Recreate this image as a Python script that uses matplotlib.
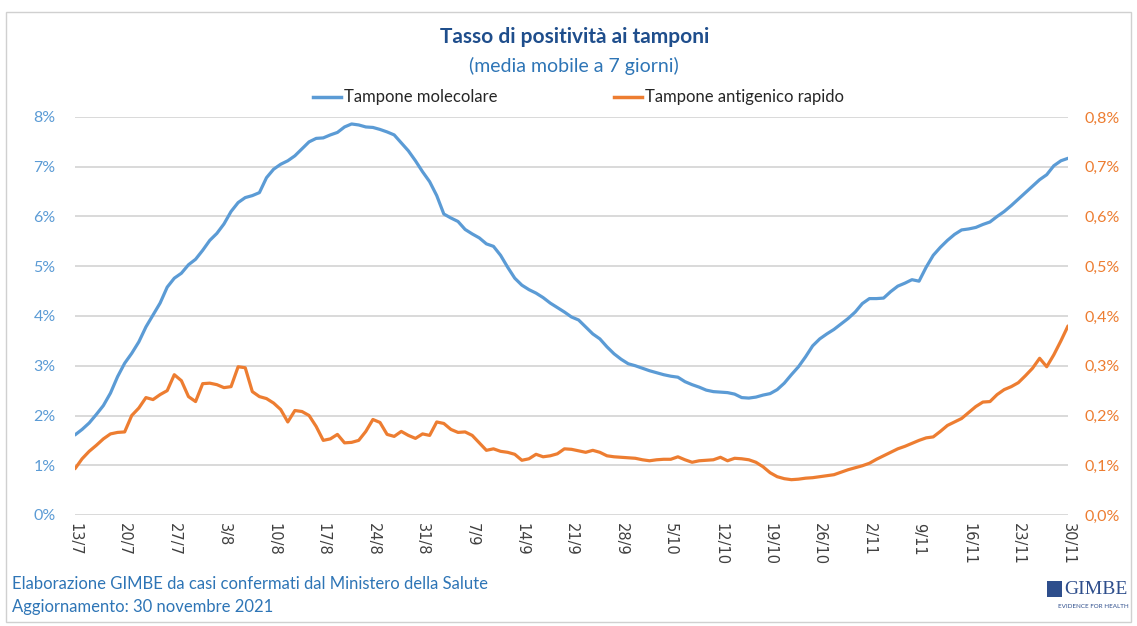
import matplotlib
matplotlib.use("Agg")
import matplotlib.pyplot as plt
import numpy as np
import pandas as pd
from matplotlib.patches import Rectangle
from matplotlib.ticker import FuncFormatter, MultipleLocator

# 7-day moving average of test positivity (%), daily from 13/7 to 30/11/2021
dates = pd.date_range("2021-07-13", "2021-11-30", freq="D")

molecolare = [
    1.61, 1.72, 1.85, 2.02, 2.20, 2.45, 2.78, 3.05, 3.25, 3.48,
    3.78, 4.02, 4.26, 4.58, 4.76, 4.86, 5.03, 5.14, 5.32, 5.52,
    5.66, 5.85, 6.10, 6.28, 6.38, 6.42, 6.48, 6.78, 6.95, 7.05,
    7.12, 7.22, 7.36, 7.50, 7.57, 7.58, 7.64, 7.69, 7.80, 7.86,
    7.84, 7.80, 7.79, 7.75, 7.70, 7.64, 7.48, 7.32, 7.12, 6.90,
    6.70, 6.42, 6.05, 5.97, 5.90, 5.74, 5.65, 5.57, 5.45, 5.40,
    5.22, 4.98, 4.76, 4.62, 4.53, 4.46, 4.37, 4.26, 4.17, 4.08,
    3.98, 3.92, 3.78, 3.64, 3.54, 3.38, 3.24, 3.13, 3.04, 3.00,
    2.95, 2.90, 2.86, 2.82, 2.79, 2.77, 2.68, 2.62, 2.57, 2.51,
    2.48, 2.47, 2.46, 2.43, 2.36, 2.35, 2.37, 2.41, 2.44, 2.52,
    2.65, 2.82, 2.98, 3.18, 3.40, 3.54, 3.64, 3.73, 3.84, 3.95,
    4.08, 4.25, 4.35, 4.35, 4.36, 4.49, 4.60, 4.66, 4.73, 4.70,
    4.98, 5.22, 5.38, 5.52, 5.64, 5.73, 5.75, 5.78, 5.84, 5.89,
    6.00, 6.10, 6.22, 6.35, 6.48, 6.61, 6.74, 6.84, 7.02, 7.12,
    7.17,
]

antigenico = [
    0.093, 0.113, 0.128, 0.140, 0.153, 0.163, 0.166, 0.167, 0.200, 0.215,
    0.236, 0.232, 0.242, 0.250, 0.282, 0.270, 0.238, 0.228, 0.264, 0.265,
    0.262, 0.256, 0.258, 0.298, 0.296, 0.248, 0.238, 0.234, 0.225, 0.212,
    0.187, 0.210, 0.208, 0.200, 0.178, 0.150, 0.153, 0.162, 0.145, 0.146,
    0.150, 0.168, 0.192, 0.186, 0.162, 0.158, 0.168, 0.160, 0.154, 0.163,
    0.160, 0.187, 0.184, 0.172, 0.166, 0.167, 0.160, 0.145, 0.130, 0.133,
    0.128, 0.126, 0.122, 0.110, 0.113, 0.122, 0.117, 0.119, 0.123, 0.133,
    0.132, 0.129, 0.126, 0.130, 0.126, 0.119, 0.117, 0.116, 0.115, 0.114,
    0.111, 0.109, 0.111, 0.112, 0.112, 0.117, 0.111, 0.106, 0.109, 0.110,
    0.111, 0.116, 0.109, 0.114, 0.113, 0.111, 0.106, 0.097, 0.085, 0.077,
    0.073, 0.071, 0.072, 0.074, 0.075, 0.077, 0.079, 0.081, 0.086, 0.091,
    0.095, 0.099, 0.104, 0.112, 0.119, 0.126, 0.133, 0.138, 0.144, 0.150,
    0.155, 0.157, 0.168, 0.180, 0.187, 0.194, 0.206, 0.218, 0.227, 0.228,
    0.242, 0.252, 0.258, 0.266, 0.280, 0.295, 0.315, 0.298, 0.322, 0.350,
    0.380,
]

BLUE = "#5B9BD5"
ORANGE = "#ED7D31"
TITLE_BLUE = "#1F4E8C"
TEXT_BLUE = "#2E75B6"
LOGO_BLUE = "#2E4E8C"

plt.rcParams["font.family"] = ["Lato", "DejaVu Sans"]

W, H = 1137, 626
fig = plt.figure(figsize=(W / 100, H / 100), dpi=100)
fig.patch.set_facecolor("white")

# outer chart frame
fig.patches.append(Rectangle((6 / W, 4 / H), 1125 / W, 610 / H,
                             transform=fig.transFigure, fill=False,
                             edgecolor="#D0D0D0", linewidth=1.0))

ax = fig.add_axes([75 / W, 1 - 515 / H, (1068 - 75) / W, (515 - 117) / H])
ax2 = ax.twinx()

ax.plot(dates, molecolare, color=BLUE, linewidth=2.3, solid_capstyle="round")
ax2.plot(dates, antigenico, color=ORANGE, linewidth=2.3, solid_capstyle="round")

ax.set_xlim(dates[0], dates[-1])
ax.set_ylim(0, 8)
ax2.set_ylim(0, 0.8)
ax.yaxis.set_major_locator(MultipleLocator(1))
ax2.yaxis.set_major_locator(MultipleLocator(0.1))
ax.yaxis.set_major_formatter(FuncFormatter(lambda v, p: f"{v:.0f}%"))
ax2.yaxis.set_major_formatter(
    FuncFormatter(lambda v, p: f"{v:.1f}%".replace(".", ",")))

ax.grid(axis="y", color="#D9D9D9", linewidth=1.4)
ax.set_axisbelow(True)
for a in (ax, ax2):
    for s in a.spines.values():
        s.set_visible(False)
    a.tick_params(length=0)

ax.tick_params(axis="y", colors=BLUE, labelsize=11.5, pad=14)
ax2.tick_params(axis="y", colors=ORANGE, labelsize=11.5, pad=12)

tick_dates = dates[::7]
ax.set_xticks(tick_dates)
ax.set_xticklabels([f"{d.day}/{d.month}" for d in tick_dates],
                   rotation=-90, fontsize=10.5, color="#404040",
                   family=["DejaVu Sans"])
ax.tick_params(axis="x", pad=6)

# titles
fig.text(0.505, 1 - 37 / H, "Tasso di positività ai tamponi", ha="center",
         va="center", fontsize=15, fontweight="bold", color=TITLE_BLUE)
fig.text(0.505, 1 - 66 / H, "(media mobile a 7 giorni)", ha="center",
         va="center", fontsize=14, color=TEXT_BLUE)

# legend
for x0, label, col in [(313, "Tampone molecolare", BLUE),
                       (614, "Tampone antigenico rapido", ORANGE)]:
    fig.lines.append(plt.Line2D([x0 / W, (x0 + 28) / W], [1 - 97 / H] * 2,
                                transform=fig.transFigure, color=col,
                                linewidth=2.5))
    fig.text((x0 + 31) / W, 1 - 97 / H, label, ha="left", va="center",
             fontsize=12, color="#262626")

# footer
fig.text(12 / W, 1 - 584 / H,
         "Elaborazione GIMBE da casi confermati dal Ministero della Salute",
         ha="left", va="center", fontsize=12, color=TEXT_BLUE)
fig.text(12 / W, 1 - 607 / H, "Aggiornamento: 30 novembre 2021",
         ha="left", va="center", fontsize=12, color=TEXT_BLUE)

# GIMBE logo
fig.patches.append(Rectangle((1047 / W, 1 - 597 / H), 15 / W, 16 / H,
                             transform=fig.transFigure, facecolor=LOGO_BLUE,
                             edgecolor="none"))
fig.text(1064 / W, 1 - 589 / H, "GIMBE", ha="left", va="center",
         fontsize=14, color=LOGO_BLUE, family=["Liberation Serif"])
fig.text(1129 / W, 1 - 606 / H, "EVIDENCE FOR HEALTH", ha="right",
         va="center", fontsize=4.5, color=LOGO_BLUE)

fig.savefig("out.png", dpi=100, facecolor="white")
